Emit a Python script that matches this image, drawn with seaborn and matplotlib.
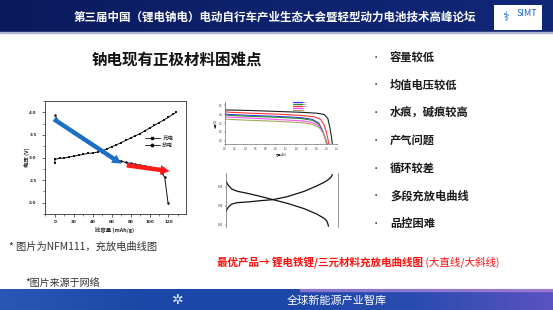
import numpy as np
import pandas as pd
import matplotlib
matplotlib.use("Agg")
import matplotlib.pyplot as plt
import seaborn as sns
from matplotlib.patches import Rectangle, FancyArrowPatch
from matplotlib.colors import LinearSegmentedColormap
from matplotlib.lines import Line2D

sns.set_style("ticks")
plt.rcParams['font.family'] = ['Noto Sans CJK SC', 'DejaVu Sans']
plt.rcParams['axes.unicode_minus'] = False

# ---------------- data ----------------
header_title = "第三届中国（锂电钠电）电动自行车产业生态大会暨轻型动力电池技术高峰论坛"
section_title = "钠电现有正极材料困难点"
bullets = ["容量较低", "均值电压较低", "水痕，碱痕较高", "产气问题", "循环较差", "多段充放电曲线", "品控困难"]
note1 = "* 图片为NFM111，充放电曲线图"
note2 = "*图片来源于网络"
best_bold = "最优产品→ 锂电铁锂/三元材料充放电曲线图"
best_light = " (大直线/大斜线)"
footer_text = "全球新能源产业智库"

charge_cap = [0, 0, 5, 10, 15, 20, 25, 30, 35, 40, 45, 50, 55, 60, 65, 70, 75, 80,
              85, 90, 95, 100, 105, 110, 115, 120, 125, 128]
charge_v = [2.87, 2.96, 2.98, 2.99, 3.01, 3.03, 3.05, 3.07, 3.09, 3.10, 3.12, 3.15, 3.19,
            3.24, 3.28, 3.33, 3.38, 3.43, 3.48, 3.53, 3.59, 3.65, 3.71, 3.77, 3.83, 3.89, 3.96, 4.00]
discharge_cap = [0, 5, 10, 15, 20, 25, 30, 35, 40, 45, 50, 55, 60, 65, 70, 75, 80, 85,
                 90, 95, 100, 105, 110, 113, 116, 119.5]
discharge_v = [3.93, 3.77, 3.69, 3.62, 3.55, 3.48, 3.41, 3.34, 3.27, 3.20, 3.13, 3.06, 3.00,
               2.95, 2.92, 2.89, 2.87, 2.85, 2.83, 2.81, 2.79, 2.76, 2.72, 2.66, 2.56, 2.00]
series_names = ["充电", "放电"]
blue_arrow = [(-3.5, 3.88), (72.5, 2.83)]
red_arrow = [(73.0, 2.835), (124.0, 2.69)]

# right-top small chart (rate discharge curves)
rate_labels = ["0.1C", "0.2C", "0.5C", "1C", "2C", "3C"]
rate_x = {
    "black":   [0, 0.1, 0.5, 1.0, 1.5, 1.8, 1.95, 2.02, 2.06, 2.09, 2.11],
    "red":     [0, 0.1, 0.5, 1.0, 1.5, 1.75, 1.88, 1.95, 1.99, 2.02, 2.04],
    "blue":    [0, 0.1, 0.5, 1.0, 1.5, 1.72, 1.84, 1.91, 1.95, 1.98, 2.00],
    "green":   [0, 0.1, 0.5, 1.0, 1.5, 1.72, 1.84, 1.91, 1.96, 1.99, 2.01],
    "magenta": [0, 0.1, 0.5, 1.0, 1.5, 1.72, 1.84, 1.92, 1.96, 1.99, 2.01],
    "olive":   [0, 0, 0.1, 0.5, 1.0, 1.5, 1.72, 1.85, 1.93, 1.97, 2.00, 2.02],
}
rate_y = {
    "black":   [3.49, 3.49, 3.48, 3.46, 3.44, 3.42, 3.39, 3.30, 3.10, 2.90, 2.72],
    "red":     [3.45, 3.44, 3.42, 3.40, 3.37, 3.34, 3.28, 3.15, 3.00, 2.85, 2.72],
    "blue":    [3.40, 3.39, 3.37, 3.35, 3.32, 3.28, 3.20, 3.05, 2.92, 2.80, 2.72],
    "green":   [3.38, 3.37, 3.35, 3.33, 3.30, 3.26, 3.18, 3.03, 2.90, 2.79, 2.72],
    "magenta": [3.34, 3.33, 3.31, 3.28, 3.25, 3.21, 3.14, 3.00, 2.88, 2.78, 2.72],
    "olive":   [3.67, 3.29, 3.28, 3.26, 3.24, 3.21, 3.17, 3.10, 2.97, 2.86, 2.77, 2.72],
}
rate_colors = {"black": "#202020", "red": "#ff3535", "blue": "#3b3bff",
               "green": "#2e8b2e", "magenta": "#ff55ff", "olive": "#a8a860"}

# right-bottom small chart (crossing curves)
cross_x_a = [0.0, 0.02, 0.05, 0.1, 0.2, 0.3, 0.42, 0.55, 0.7, 0.81, 0.87, 0.9, 0.91, 0.915]
cross_y_a = [0.32, 0.27, 0.22, 0.19, 0.16, 0.125, 0.08, 0.03, -0.04, -0.11, -0.16, -0.2, -0.24, -0.27]
cross_x_b = [0.0, 0.02, 0.05, 0.1, 0.2, 0.3, 0.42, 0.55, 0.7, 0.81, 0.88, 0.92, 0.94, 0.95]
cross_y_b = [-0.07, -0.02, 0.02, 0.04, 0.05, 0.065, 0.08, 0.12, 0.19, 0.26, 0.31, 0.35, 0.38, 0.41]

# ---------------- figure ----------------
W, H = 553, 310
fig = plt.figure(figsize=(W / 100, H / 100), dpi=100)
fig.patch.set_facecolor("white")


def px_axes(x0, y0, x1, y1):
    return fig.add_axes([x0 / W, 1 - y1 / H, (x1 - x0) / W, (y1 - y0) / H])


bg = fig.add_axes([0, 0, 1, 1])
bg.set_xlim(0, W)
bg.set_ylim(H, 0)
bg.axis("off")

# header band
hcmap = LinearSegmentedColormap.from_list("h", ["#0a1a5c", "#0e226e", "#112878"])
bg.imshow(np.linspace(0, 1, 256)[None, :], cmap=hcmap, aspect="auto",
          extent=[0, W, 32, 0], zorder=0)
bg.add_patch(Rectangle((0, 32), W, 1.2, color="#aeb7d3", zorder=1))
bg.text(275, 17, header_title, color="white", fontsize=8.3, fontweight="bold",
        ha="center", va="center")
# logo box
bg.add_patch(Rectangle((494, 5), 48, 25, facecolor="white", edgecolor="none", zorder=2))
bg.text(506, 17, "⚕", color="#1a63c0", fontsize=9, ha="center", va="center", zorder=3,
        family=["DejaVu Sans"])
bg.text(527, 13, "SIMT", color="#1a63c0", fontsize=6.5, ha="center", va="center", zorder=3)

# footer band
fcmap = LinearSegmentedColormap.from_list("f", ["#2a56b6", "#1c48a8", "#1b47a8", "#2a4cb0", "#5a52c0"])
bg.imshow(np.linspace(0, 1, 256)[None, :], cmap=fcmap, aspect="auto",
          extent=[0, W, H, 289], zorder=0)
bg.add_patch(Rectangle((300, 289), 253, 1.5, color="#b58ad8", alpha=0.6, zorder=1))
bg.text(337, 301, footer_text, color="white", fontsize=8, ha="center", va="center")
bg.text(178, 300, "✲", color="#e8eefc", fontsize=10, ha="center", va="center",
        family=["DejaVu Sans"])

# texts
bg.text(92, 60, section_title, color="#111111", fontsize=11.2, fontweight="bold",
        ha="left", va="center")
for i, b in enumerate(bullets):
    y = 57 + i * 27.8
    bg.text(376, y, "•", color="#222222", fontsize=6, ha="center", va="center")
    bg.text(390, y, b, color="#1a1a1a", fontsize=8.1, fontweight="bold",
            ha="left", va="center")
bg.text(9, 247, note1, color="#333333", fontsize=7.4, ha="left", va="center")
bg.text(25, 283, note2, color="#333333", fontsize=7.2, ha="left", va="center")
t1 = bg.text(217, 262.5, best_bold, color="#ff1010", fontsize=7.6, fontweight="bold",
             ha="left", va="center")
fig.canvas.draw()
bb = t1.get_window_extent()
x_end = bb.x1 / fig.dpi * 100
bg.text(x_end, 262.5, best_light, color="#ff1010", fontsize=7.6, ha="left", va="center")

# ---------------- main chart ----------------
ax = px_axes(45, 101, 186, 214)
df_c = pd.DataFrame({"cap": charge_cap, "v": charge_v})
df_d = pd.DataFrame({"cap": discharge_cap, "v": discharge_v})
sns.lineplot(data=df_c, x="cap", y="v", ax=ax, color="#111111", lw=0.7, sort=False,
             marker="s", markersize=1.8, markeredgewidth=0, estimator=None)
sns.lineplot(data=df_d, x="cap", y="v", ax=ax, color="#111111", lw=0.7, sort=False,
             marker="o", markersize=1.8, markeredgewidth=0, estimator=None)
ax.set_xlim(-10.5, 138.5)
ax.set_ylim(1.75, 4.25)
ax.set_xticks([0, 20, 40, 60, 80, 100, 120])
ax.set_yticks([2.0, 2.5, 3.0, 3.5, 4.0])
ax.set_xticks(np.arange(-10, 140, 10), minor=True)
ax.set_yticks(np.arange(1.75, 4.3, 0.25), minor=True)
ax.tick_params(axis="both", which="major", length=2, width=0.5, labelsize=3, pad=2.5)
ax.tick_params(axis="both", which="minor", length=1.2, width=0.4)
ax.tick_params(axis="y", which="major", pad=4)
for lab in ax.get_xticklabels() + ax.get_yticklabels():
    lab.set_fontweight("bold")
    lab.set_family(["DejaVu Sans"])
for s in ax.spines.values():
    s.set_visible(True)
    s.set_linewidth(0.6)
    s.set_color("#333333")
ax.set_xlabel("比容量 (mAh/g)", fontsize=3.9, fontweight="bold")
ax.set_ylabel("电压 (V)", fontsize=3.9, fontweight="bold")
ax.xaxis.set_label_coords(0.496, -0.115)
ax.yaxis.set_label_coords(-0.106, 0.5)

for (p0, p1), col in [(blue_arrow, "#1c6fc4"), (red_arrow, "#ff1a1a")]:
    arr = FancyArrowPatch(p0, p1, arrowstyle="simple,head_length=6.5,head_width=7,tail_width=3.2",
                          mutation_scale=1, color=col, lw=0, zorder=5, clip_on=False)
    ax.add_patch(arr)

handles = [Line2D([], [], color="#111111", lw=0.6, marker="s", markersize=1.8),
           Line2D([], [], color="#111111", lw=0.6, marker="o", markersize=1.8)]
ax.legend(handles, series_names, loc="upper left", bbox_to_anchor=(0.69, 0.72),
          frameon=False, fontsize=4, handlelength=2.6, borderpad=0, labelspacing=0.35,
          handletextpad=0.5)

# ---------------- right top small chart ----------------
ax2 = px_axes(225, 102, 337, 144.5)
for i, key in enumerate(["black", "red", "blue", "green", "magenta", "olive"]):
    sns.lineplot(x=rate_x[key], y=rate_y[key], ax=ax2, color=rate_colors[key], lw=0.8,
                 sort=False, estimator=None)
ax2.set_xlim(0, 2.2)
ax2.set_ylim(2.72, 3.67)
ax2.set_xticks(np.arange(0, 2.21, 0.2))
ax2.set_yticks([2.8, 3.0, 3.2, 3.4, 3.6])
ax2.tick_params(length=1, width=0.3, labelsize=1.8, pad=1)
for s in ["top", "right"]:
    ax2.spines[s].set_visible(False)
for s in ["left", "bottom"]:
    ax2.spines[s].set_linewidth(0.4)
    ax2.spines[s].set_color("#555555")
ax2.set_ylabel("电压(V)", fontsize=2, labelpad=1)
ax2.set_xlabel("容量(Ah)", fontsize=2, labelpad=0.5)
leg_h = [Line2D([], [], color=rate_colors[k], lw=0.9) for k in ["blue", "green", "red", "magenta", "olive"]]
ax2.legend(leg_h, rate_labels[:5], loc="upper left", bbox_to_anchor=(0.6, 1.04), frameon=False,
           fontsize=1.6, handlelength=4, labelspacing=0.15, borderpad=0, handletextpad=0.4)

# ---------------- right bottom small chart ----------------
ax3 = px_axes(226, 173, 338, 227)
sns.lineplot(x=cross_x_a, y=cross_y_a, ax=ax3, color="#111111", lw=0.9, sort=False, estimator=None)
sns.lineplot(x=cross_x_b, y=cross_y_b, ax=ax3, color="#111111", lw=0.9, sort=False, estimator=None)
ax3.set_xlim(0, 1)
ax3.set_ylim(-0.28, 0.43)
ax3.set_xticks([])
ax3.set_yticks([-0.25, 0.0, 0.25])
ax3.set_yticklabels(["0.25", "0.00", "0.25"])
ax3.tick_params(length=1, width=0.3, labelsize=2, pad=1)
for s in ["top", "bottom"]:
    ax3.spines[s].set_visible(False)
for s in ["left", "right"]:
    ax3.spines[s].set_linewidth(0.5)
    ax3.spines[s].set_color("#666666")

fig.savefig("out.png", dpi=100)
